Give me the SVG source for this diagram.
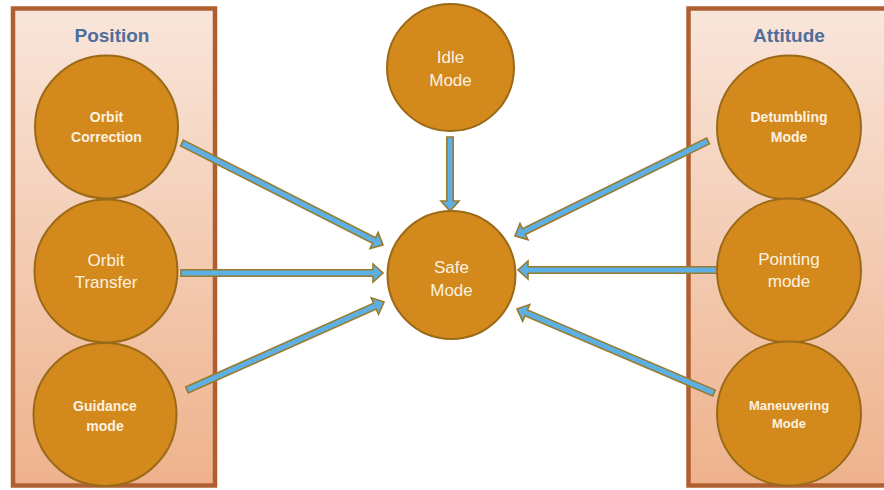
<svg xmlns="http://www.w3.org/2000/svg" width="884" height="490" viewBox="0 0 884 490">
  <defs>
    <linearGradient id="panelFill" x1="0" y1="0" x2="0" y2="1">
      <stop offset="0" stop-color="#f9e6db"/>
      <stop offset="1" stop-color="#eeb28c"/>
    </linearGradient>
    <style>
      .panel { fill: url(#panelFill); stroke: #b05f30; stroke-width: 4.5; }
      .title { font-family: "Liberation Sans", Arial, sans-serif; font-weight: bold; font-size: 19px; fill: #4f6e9c; text-anchor: middle; }
      .mode { fill: #d3891c; stroke: #9a6a18; stroke-width: 2; }
      .lbl { font-family: "Liberation Sans", Arial, sans-serif; fill: #fbf1e0; text-anchor: middle; }
      .big { font-size: 17px; }
      .small { font-size: 14px; font-weight: bold; }
      .arrow { fill: #5cb0e4; stroke: #9a7a2c; stroke-width: 1.6; stroke-linejoin: miter; }
    </style>
  </defs>

  <!-- grouping panels -->
  <g id="position-panel">
    <rect class="panel" x="13" y="8.5" width="202" height="477"/>
    <text class="title" x="112" y="42">Position</text>
  </g>
  <g id="attitude-panel">
    <rect class="panel" x="688.5" y="8.5" width="200" height="477"/>
    <text class="title" x="789" y="42">Attitude</text>
  </g>

  <!-- connectors: block arrows, drawn from origin along +x, then placed -->
  <g id="connectors">
    <path class="arrow" d="M0,-3.2 H215.4 V-9 L225.4,0 L215.4,9 V3.2 H0 Z" transform="translate(182,143) rotate(26.9)"/>
    <path class="arrow" d="M0,-3.2 H192 V-9 L202,0 L192,9 V3.2 H0 Z" transform="translate(181,273)"/>
    <path class="arrow" d="M0,-3.2 H205.8 V-9 L215.8,0 L205.8,9 V3.2 H0 Z" transform="translate(187,390) rotate(-24.07)"/>
    <path class="arrow" d="M0,-3.2 H64 V-9 L74,0 L64,9 V3.2 H0 Z" transform="translate(450,137) rotate(90)"/>
    <path class="arrow" d="M0,-3.2 H205.1 V-9 L215.1,0 L205.1,9 V3.2 H0 Z" transform="translate(708,141) rotate(153.8)"/>
    <path class="arrow" d="M0,-3.2 H189 V-9 L199,0 L189,9 V3.2 H0 Z" transform="translate(717,270) rotate(180)"/>
    <path class="arrow" d="M0,-3.2 H204.2 V-9 L214.2,0 L204.2,9 V3.2 H0 Z" transform="translate(714,393) rotate(203.1)"/>
  </g>

  <!-- position modes -->
  <g id="orbit-correction">
    <circle class="mode" cx="106.5" cy="127" r="71.5"/>
    <text class="lbl small" x="106.5" y="122">Orbit</text>
    <text class="lbl small" x="106.5" y="142">Correction</text>
  </g>
  <g id="orbit-transfer">
    <circle class="mode" cx="106" cy="271" r="71.5"/>
    <text class="lbl big" x="106" y="266">Orbit</text>
    <text class="lbl big" x="106" y="288">Transfer</text>
  </g>
  <g id="guidance-mode">
    <circle class="mode" cx="105" cy="414.5" r="71.5"/>
    <text class="lbl small" x="105" y="411">Guidance</text>
    <text class="lbl small" x="105" y="431">mode</text>
  </g>

  <!-- central modes -->
  <g id="idle-mode">
    <circle class="mode" cx="450.5" cy="67.5" r="63.5"/>
    <text class="lbl big" x="450.5" y="63">Idle</text>
    <text class="lbl big" x="450.5" y="86">Mode</text>
  </g>
  <g id="safe-mode">
    <circle class="mode" cx="451.5" cy="275" r="64"/>
    <text class="lbl big" x="451.5" y="273">Safe</text>
    <text class="lbl big" x="451.5" y="296">Mode</text>
  </g>

  <!-- attitude modes -->
  <g id="detumbling-mode">
    <circle class="mode" cx="789" cy="127.5" r="72"/>
    <text class="lbl small" x="789" y="122">Detumbling</text>
    <text class="lbl small" x="789" y="142">Mode</text>
  </g>
  <g id="pointing-mode">
    <circle class="mode" cx="789" cy="270.5" r="72"/>
    <text class="lbl big" x="789" y="265">Pointing</text>
    <text class="lbl big" x="789" y="287">mode</text>
  </g>
  <g id="maneuvering-mode">
    <circle class="mode" cx="789" cy="413.5" r="72"/>
    <text class="lbl small" x="789" y="410" style="font-size:13px">Maneuvering</text>
    <text class="lbl small" x="789" y="428" style="font-size:13px">Mode</text>
  </g>
</svg>
